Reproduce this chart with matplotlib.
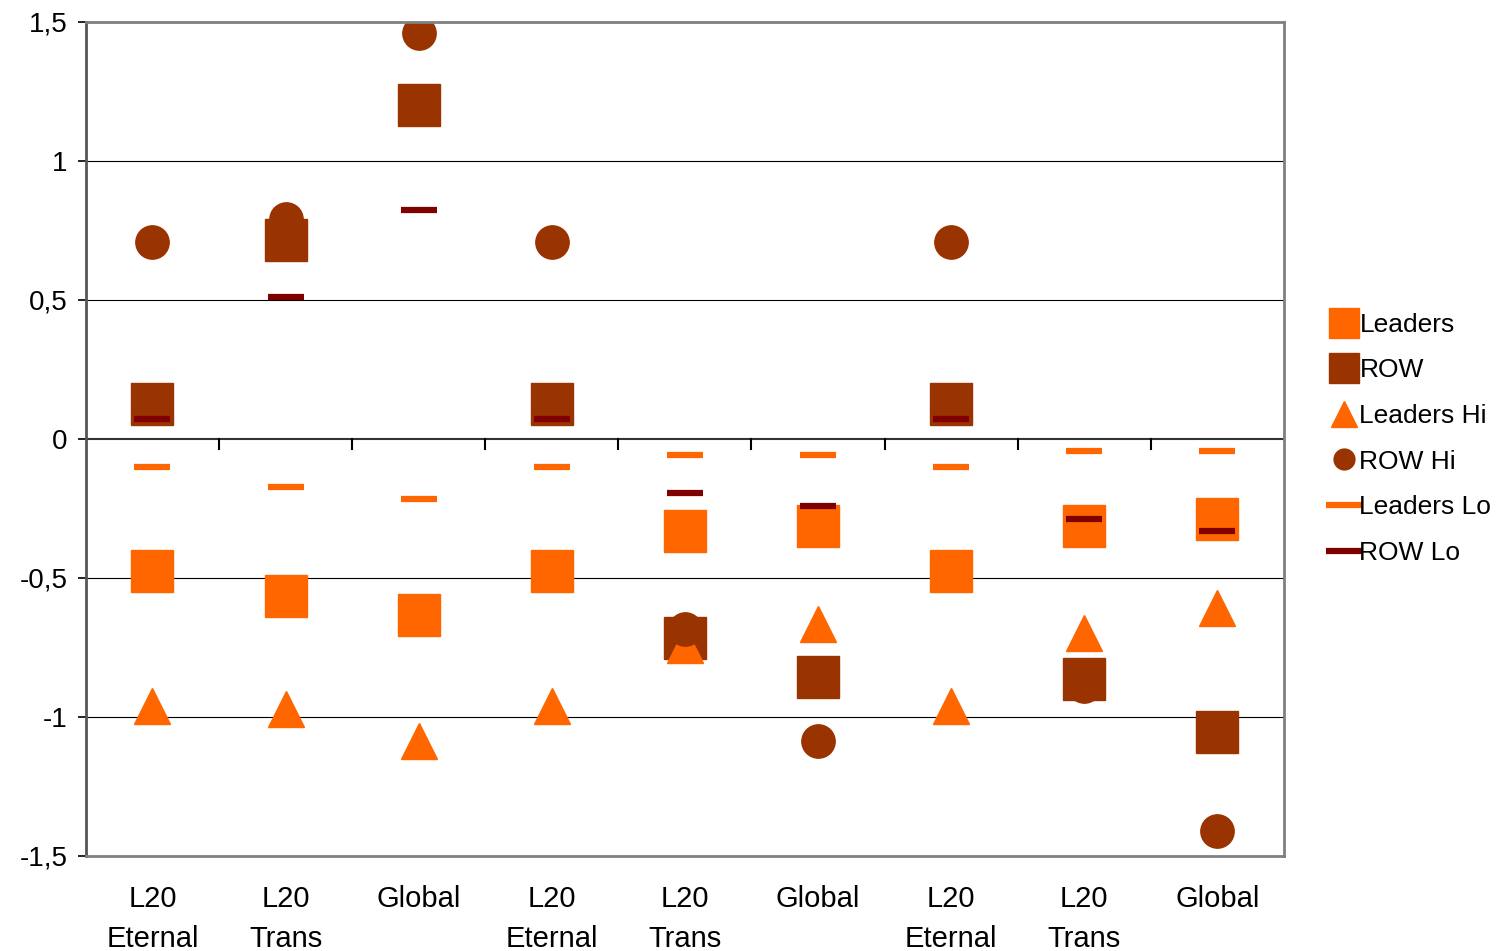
import matplotlib
matplotlib.use('Agg')
import matplotlib.pyplot as plt
import numpy as np

plt.rcParams['font.family'] = ['Liberation Sans', 'DejaVu Sans']

# category labels (three scenarios x three cases)
categories = ['L20\nEternal', 'L20\nTrans', 'Global',
              'L20\nEternal', 'L20\nTrans', 'Global',
              'L20\nEternal', 'L20\nTrans', 'Global']

leaders = [-0.475, -0.565, -0.635, -0.475, -0.33, -0.313, -0.475, -0.313, -0.288]
row = [0.126, 0.716, 1.20, 0.126, -0.716, -0.856, 0.126, -0.863, -1.054]
leaders_hi = [-0.962, -0.972, -1.086, -0.962, -0.74, -0.665, -0.962, -0.70, -0.608]
row_hi = [0.709, 0.79, 1.46, 0.709, -0.683, -1.086, 0.709, -0.89, -1.41]
leaders_lo = [-0.10, -0.173, -0.216, -0.10, -0.058, -0.058, -0.10, -0.043, -0.043]
row_lo = [0.072, 0.51, 0.823, 0.072, -0.194, -0.241, 0.072, -0.288, -0.33]
# where the ROW Hi circle sits in front of the other markers
row_hi_front = [False, False, False, False, True, False, False, False, False]

c_lead = '#FF6600'
c_row = '#993300'
c_rowlo = '#800000'

x = np.arange(len(categories))

fig = plt.figure(figsize=(15.07, 9.51), dpi=100)
ax = fig.add_axes([0.057, 0.10, 0.795, 0.877])

# gridlines
for g in [1, 0.5, -0.5, -1]:
    ax.axhline(g, color='black', lw=0.8, zorder=0)

ax.plot(x, leaders, 's', color=c_lead, ms=30, label='Leaders', zorder=2)
back = [v if not f else np.nan for v, f in zip(row_hi, row_hi_front)]
front = [v if f else np.nan for v, f in zip(row_hi, row_hi_front)]
ax.plot(x, back, 'o', color=c_row, ms=24, zorder=2.5)
ax.plot(x, row, 's', color=c_row, ms=30, label='ROW', zorder=3)
ax.plot(x, leaders_hi, '^', color=c_lead, ms=26, label='Leaders Hi', zorder=4)
ax.plot(x, front, 'o', color=c_row, ms=24, zorder=5)
ax.plot([], [], 'o', color=c_row, ms=15, label='ROW Hi')
ax.plot(x, leaders_lo, '_', color=c_lead, ms=26, mew=4.5, label='Leaders Lo', zorder=6)
ax.plot(x, row_lo, '_', color=c_rowlo, ms=26, mew=4.5, label='ROW Lo', zorder=6)

# category axis crossing at zero, with tick marks between categories
ax.axhline(0, color='#333333', lw=1.5, zorder=1)
for b in np.arange(0.5, len(categories) - 1, 1.0):
    ax.plot([b, b], [0, -0.035], color='black', lw=1.5, zorder=1)

ax.set_xlim(-0.5, len(categories) - 0.5)
ax.set_ylim(-1.5, 1.5)
ax.set_xticks(x)
ax.set_xticklabels(categories, fontsize=21, linespacing=1.55)
ax.tick_params(axis='x', length=0, pad=21)
ax.set_yticks([-1.5, -1, -0.5, 0, 0.5, 1, 1.5])
ax.set_yticklabels(['-1,5', '-1', '-0,5', '0', '0,5', '1', '1,5'], fontsize=20)
ax.tick_params(axis='y', length=6, width=1.2, pad=7)

for s in ax.spines.values():
    s.set_color('#808080')
    s.set_linewidth(2)
ax.spines['left'].set_color('#555555')

leg = ax.legend(loc='center left', bbox_to_anchor=(1.03, 0.5), frameon=False,
                fontsize=19, handlelength=1.0, handletextpad=0.1,
                labelspacing=0.82, borderaxespad=0)
for h in leg.legend_handles:
    if h.get_marker() == 's':
        h.set_markersize(21)
    elif h.get_marker() == '^':
        h.set_markersize(19)

fig.savefig('out.png', dpi=100)
